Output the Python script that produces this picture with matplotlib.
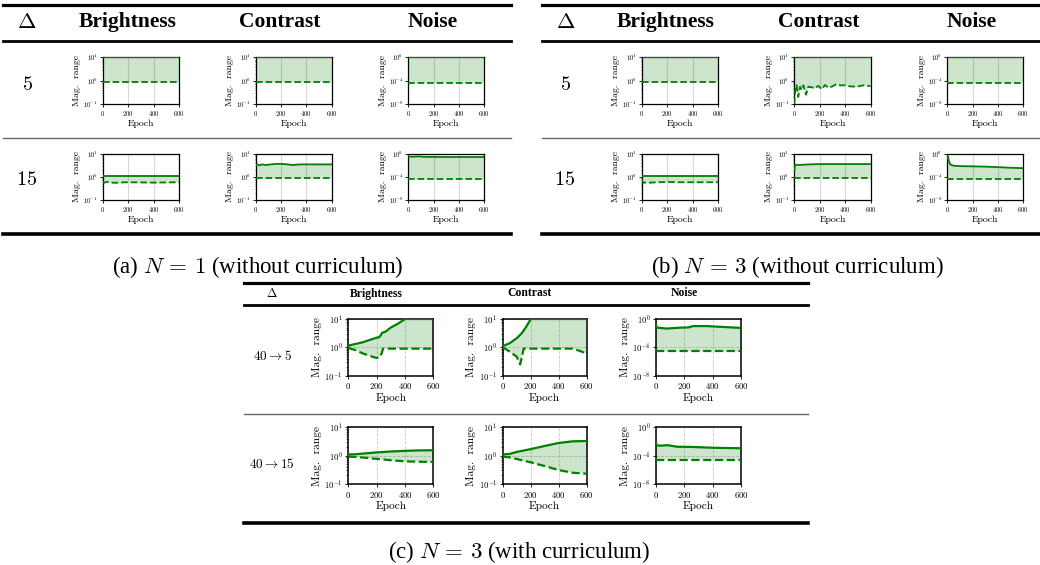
import matplotlib
matplotlib.use("Agg")
import matplotlib.pyplot as plt
from matplotlib.lines import Line2D
from matplotlib.ticker import LogLocator, NullLocator, FixedLocator

plt.rcParams['font.family'] = 'cmr10'
plt.rcParams['mathtext.fontset'] = 'cm'
plt.rcParams['axes.formatter.use_mathtext'] = True

GREEN = '#008000'
SERIF = 'Liberation Serif'
W, H = 1040, 565

columns = ['Brightness', 'Contrast', 'Noise']
ylims = {'Brightness': (1e-1, 1e1), 'Contrast': (1e-1, 1e1), 'Noise': (1e-8, 1e0)}
yticks = {'Brightness': [1e-1, 1e0, 1e1], 'Contrast': [1e-1, 1e0, 1e1],
          'Noise': [1e-8, 1e-4, 1e0]}
xticks = [0, 200, 400, 600]
flat = [0, 600]

# ---- (a) N = 1, without curriculum ----
a_rows = ['$5$', '$15$']
a5_bri_lo, a5_bri_hi = [0.85, 0.85], [10, 10]
a5_con_lo, a5_con_hi = [0.85, 0.85], [10, 10]
a5_noi_lo, a5_noi_hi = [4.5e-5, 4.5e-5], [1, 1]

a15_bri_lo_ep = [0, 10, 30, 60, 100, 150, 200, 300, 400, 600]
a15_bri_lo = [0.62, 0.55, 0.6, 0.56, 0.55, 0.57, 0.58, 0.57, 0.56, 0.58]
a15_bri_hi = [1.1, 1.1]
a15_con_lo = [0.85, 0.85]
a15_con_hi_ep = [0, 10, 30, 50, 80, 120, 170, 230, 270, 290, 350, 450, 600]
a15_con_hi = [3.0, 3.4, 3.1, 3.4, 3.2, 3.4, 3.6, 3.5, 3.3, 3.2, 3.4, 3.4, 3.4]
a15_noi_lo = [3.5e-5, 3.5e-5]
a15_noi_hi_ep = [0, 30, 60, 80, 120, 200, 300, 400, 600]
a15_noi_hi = [0.3, 0.28, 0.3, 0.32, 0.27, 0.26, 0.25, 0.25, 0.25]

# ---- (b) N = 3, without curriculum ----
b_rows = ['$5$', '$15$']
b5_bri_lo, b5_bri_hi = [0.85, 0.85], [10, 10]
b5_con_lo_ep = [0, 8, 18, 31, 45, 58, 71, 92, 110, 136, 162, 188, 215, 241,
                267, 293, 319, 332, 359, 398, 437, 490, 542, 600]
b5_con_lo = [0.1, 0.4, 0.65, 0.2, 0.55, 0.4, 0.63, 0.25, 0.55, 0.52, 0.47, 0.6,
             0.43, 0.65, 0.5, 0.55, 0.65, 0.72, 0.63, 0.63, 0.57, 0.55, 0.63, 0.58]
b5_con_hi = [10, 10]
b5_noi_lo, b5_noi_hi = [4.5e-5, 4.5e-5], [1, 1]

b15_bri_lo_ep = [0, 5, 15, 40, 100, 200, 300, 400, 600]
b15_bri_lo = [0.8, 0.65, 0.56, 0.55, 0.57, 0.6, 0.58, 0.58, 0.58]
b15_bri_hi = [1.1, 1.1]
b15_con_lo = [0.85, 0.85]
b15_con_hi_ep = [0, 5, 15, 40, 70, 120, 200, 300, 400, 600]
b15_con_hi = [1.8, 3.0, 3.3, 3.2, 3.3, 3.4, 3.5, 3.5, 3.5, 3.5]
b15_noi_lo = [3.5e-5, 3.5e-5]
b15_noi_hi_ep = [0, 5, 12, 25, 50, 100, 200, 300, 400, 500, 600]
b15_noi_hi = [0.2, 0.35, 0.05, 0.012, 0.008, 0.0068, 0.0062, 0.0055, 0.0045, 0.0035, 0.003]

# ---- (c) N = 3, with curriculum ----
c_rows = [r'$40 \rightarrow 5$', r'$40 \rightarrow 15$']
c5_bri_lo_ep = [0, 50, 100, 150, 200, 220, 235, 245, 600]
c5_bri_lo = [0.95, 0.8, 0.62, 0.5, 0.42, 0.45, 0.6, 0.9, 0.9]
c5_bri_hi_ep = [0, 100, 200, 220, 240, 260, 300, 350, 400, 600]
c5_bri_hi = [1.15, 1.5, 2.2, 2.3, 3.3, 3.5, 5.0, 6.8, 10, 10]
c5_con_lo_ep = [0, 25, 50, 100, 125, 150, 500, 550, 600]
c5_con_lo = [1.0, 0.85, 0.7, 0.47, 0.25, 0.9, 0.9, 0.75, 0.6]
c5_con_hi_ep = [0, 50, 100, 135, 170, 200, 600]
c5_con_hi = [1.1, 1.4, 2.1, 3.1, 5.5, 10, 10]
c5_noi_lo = [2.7e-5, 2.7e-5]
c5_noi_hi_ep = [0, 3, 10, 75, 170, 230, 260, 360, 475, 600]
c5_noi_hi = [0.15, 0.08, 0.06, 0.045, 0.06, 0.065, 0.1, 0.1, 0.075, 0.055]

c15_ep = [0, 50, 100, 200, 300, 400, 500, 600]
c15_bri_lo = [0.92, 0.9, 0.86, 0.77, 0.69, 0.63, 0.61, 0.6]
c15_bri_hi = [1.1, 1.12, 1.18, 1.3, 1.4, 1.48, 1.53, 1.55]
c15_con_lo = [0.92, 0.87, 0.76, 0.58, 0.43, 0.31, 0.25, 0.23]
c15_con_hi = [1.1, 1.15, 1.35, 1.7, 2.2, 2.8, 3.2, 3.3]
c15_noi_lo = [2.7e-5, 2.7e-5]
c15_noi_hi_ep = [0, 5, 40, 80, 150, 250, 400, 600]
c15_noi_hi = [0.007, 0.0026, 0.0026, 0.003, 0.0018, 0.0017, 0.0013, 0.0011]

fig = plt.figure(figsize=(W / 100, H / 100), dpi=100)


def px_axes(x0, y0, x1, y1):
    return fig.add_axes([x0 / W, 1 - y1 / H, (x1 - x0) / W, (y1 - y0) / H])


def rule(x0, x1, y, lw, color='black'):
    fig.add_artist(Line2D([x0 / W, x1 / W], [1 - y / H, 1 - y / H],
                          transform=fig.transFigure, lw=lw, color=color))


def label(x, y, s, **kw):
    fig.text(x / W, 1 - y / H, s, ha='center', va='center', **kw)


def draw_cell(ax, col, lo_ep, lo, hi_ep, hi, big):
    ax.fill(list(hi_ep) + list(lo_ep)[::-1], list(hi) + list(lo)[::-1],
            color=GREEN, alpha=0.2, lw=0, zorder=1)
    lw = 1.6 if big else 1.3
    ax.plot(hi_ep, hi, color=GREEN, lw=lw, zorder=3)
    ax.plot(lo_ep, lo, color=GREEN, lw=lw, ls='--', zorder=3)
    ax.set_yscale('log')
    ax.set_xlim(0, 600)
    ax.set_ylim(*ylims[col])
    ax.set_xticks(xticks)
    ax.yaxis.set_major_locator(FixedLocator(yticks[col]))
    if col == 'Noise':
        ax.yaxis.set_minor_locator(NullLocator())
    else:
        ax.yaxis.set_minor_locator(LogLocator(base=10, subs=range(2, 10)))
    ax.set_axisbelow(True)
    if big:
        ax.grid(True, which='major', ls='--', color='#c8c8c8', lw=0.6)
    else:
        ax.grid(True, which='major', axis='x', color='#d8d8d8', lw=0.8)
    fs_tick = 6.3 if big else 4.8
    fs_lab = 8.2 if big else 7.0
    ax.tick_params(which='major', labelsize=fs_tick, length=2.5 if big else 2,
                   width=0.6, pad=1.5)
    ax.tick_params(which='minor', length=1.3 if big else 1, width=0.4)
    for s in ax.spines.values():
        s.set_linewidth(1.1 if big else 0.9)
    ax.set_xlabel('Epoch', fontsize=fs_lab, labelpad=1)
    ax.set_ylabel('Mag.  range', fontsize=fs_lab, labelpad=1.5)


def draw_table(rows, cells, col_x, ax_x, ax_y, row_lab_x, row_lab_y,
               delta_x, head_y, lines, x_span, big):
    hsize = 8.4 if big else 15.5
    rsize = 9.5 if big else 14.5
    label(delta_x, head_y, r'$\Delta$', fontsize=hsize + 0.5)
    for cx, col in zip(col_x, columns):
        label(cx, head_y, col, fontsize=hsize, family=SERIF, weight='bold')
    for r, rl in enumerate(rows):
        label(row_lab_x, row_lab_y[r], rl, fontsize=rsize)
        for c, col in enumerate(columns):
            ax = px_axes(ax_x[c][0], ax_y[r][0], ax_x[c][1], ax_y[r][1])
            draw_cell(ax, col, *cells[r][c], big)
    top, head, mid, bot = lines
    rule(x_span[0], x_span[1], top, 2.3)
    rule(x_span[0], x_span[1], head, 2.0)
    rule(x_span[0], x_span[1], mid, 1.0, '#666666')
    rule(x_span[0], x_span[1], bot, 2.6)


a_cells = [
    [(flat, a5_bri_lo, flat, a5_bri_hi), (flat, a5_con_lo, flat, a5_con_hi),
     (flat, a5_noi_lo, flat, a5_noi_hi)],
    [(a15_bri_lo_ep, a15_bri_lo, flat, a15_bri_hi), (flat, a15_con_lo, a15_con_hi_ep, a15_con_hi),
     (flat, a15_noi_lo, a15_noi_hi_ep, a15_noi_hi)],
]
b_cells = [
    [(flat, b5_bri_lo, flat, b5_bri_hi), (b5_con_lo_ep, b5_con_lo, flat, b5_con_hi),
     (flat, b5_noi_lo, flat, b5_noi_hi)],
    [(b15_bri_lo_ep, b15_bri_lo, flat, b15_bri_hi), (flat, b15_con_lo, b15_con_hi_ep, b15_con_hi),
     (flat, b15_noi_lo, b15_noi_hi_ep, b15_noi_hi)],
]
c_cells = [
    [(c5_bri_lo_ep, c5_bri_lo, c5_bri_hi_ep, c5_bri_hi), (c5_con_lo_ep, c5_con_lo, c5_con_hi_ep, c5_con_hi),
     (flat, c5_noi_lo, c5_noi_hi_ep, c5_noi_hi)],
    [(c15_ep, c15_bri_lo, c15_ep, c15_bri_hi), (c15_ep, c15_con_lo, c15_ep, c15_con_hi),
     (flat, c15_noi_lo, c15_noi_hi_ep, c15_noi_hi)],
]

small_y = [(57.3, 104), (153.5, 200)]
draw_table(a_rows, a_cells, [127.5, 280, 433],
           [(102.7, 179.3), (255.7, 331.7), (408.3, 484.3)], small_y,
           27, [85, 180], 27, 22, (4.5, 41.3, 137.5, 234), (3, 511), False)
draw_table(b_rows, b_cells, [666, 819, 972],
           [(641.7, 718.3), (794.3, 870.7), (947.3, 1023.3)], small_y,
           565, [85, 180], 566, 22, (4.5, 41.3, 137.5, 234), (542, 1040), False)
draw_table(c_rows, c_cells, [376, 530, 684],
           [(348.3, 433.3), (502.7, 586.7), (656, 741)], [(319, 375.7), (427.3, 484)],
           272, [356, 464], 272, 293.5, (283.3, 304.7, 414, 522.7), (244, 808), True)

label(258, 267, '(a) $N\\,=\\,1$ (without curriculum)', fontsize=16.5, family=SERIF)
label(797, 267, '(b) $N\\,=\\,3$ (without curriculum)', fontsize=16.5, family=SERIF)
label(519, 552, '(c) $N\\,=\\,3$ (with curriculum)', fontsize=16.5, family=SERIF)

fig.savefig('out.png', dpi=100)
